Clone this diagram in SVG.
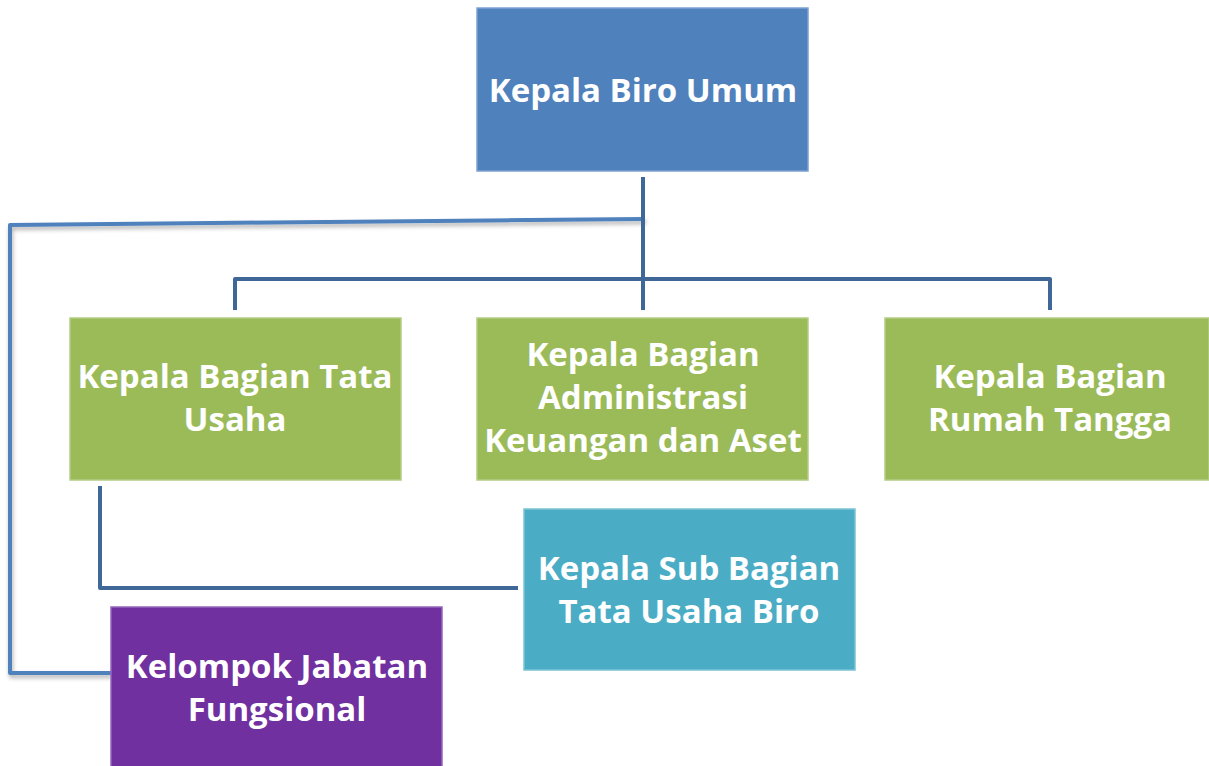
<svg xmlns="http://www.w3.org/2000/svg" width="1209" height="766" viewBox="0 0 1209 766">
<defs>
<style>
.box{stroke-width:1.5}
.t{font-family:"Open Sans","Noto Sans","Liberation Sans",sans-serif;font-weight:bold;font-size:33px;fill:#ffffff;text-anchor:middle}
.dk{fill:none;stroke:#3F6797;stroke-width:4;stroke-linejoin:round}
.lt{fill:none;stroke:#4F81BD;stroke-width:4;stroke-linejoin:round}
</style>
<filter id="sh" x="-5%" y="-5%" width="110%" height="120%">
<feDropShadow dx="1" dy="3" stdDeviation="2" flood-color="#000" flood-opacity="0.3"/>
</filter>
</defs>
<rect width="1209" height="766" fill="#ffffff"/>
<g id="connectors">
<path class="lt" d="M645,219 L10,225 L10,673 L111,673" filter="url(#sh)"/>
<path class="dk" d="M643,177 L643,310"/>
<path class="dk" d="M235,310 L235,279 L1050,279 L1050,310"/>
<path class="dk" d="M100,486 L100,588 L518,588"/>
</g>
<g id="kepala-biro-umum">
<rect class="box" x="477" y="8" width="331" height="163" fill="#4F81BD" stroke="#7EA1D2"/>
<text class="t" x="643" y="102">Kepala Biro Umum</text>
</g>
<g id="kabag-tata-usaha">
<rect class="box" x="70" y="318" width="331" height="162" fill="#9BBB59" stroke="#B5CD85"/>
<text class="t" x="235" y="388">Kepala Bagian Tata</text>
<text class="t" x="235" y="431">Usaha</text>
</g>
<g id="kabag-administrasi">
<rect class="box" x="477" y="318" width="331" height="162" fill="#9BBB59" stroke="#B5CD85"/>
<text class="t" x="643" y="366">Kepala Bagian</text>
<text class="t" x="643" y="409">Administrasi</text>
<text class="t" x="643" y="452">Keuangan dan Aset</text>
</g>
<g id="kabag-rumah-tangga">
<rect class="box" x="885" y="318" width="324" height="162" fill="#9BBB59" stroke="#B5CD85"/>
<text class="t" x="1050" y="388">Kepala Bagian</text>
<text class="t" x="1050" y="431">Rumah Tangga</text>
</g>
<g id="kasubag-tata-usaha-biro">
<rect class="box" x="524" y="509" width="331" height="161" fill="#4BACC6" stroke="#7CC3D6"/>
<text class="t" x="689" y="580">Kepala Sub Bagian</text>
<text class="t" x="689" y="623">Tata Usaha Biro</text>
</g>
<g id="kelompok-jabatan-fungsional">
<rect class="box" x="111" y="607" width="331" height="165" fill="#7030A0" stroke="#9466BA"/>
<text class="t" x="277" y="678">Kelompok Jabatan</text>
<text class="t" x="277" y="721">Fungsional</text>
</g>
</svg>
